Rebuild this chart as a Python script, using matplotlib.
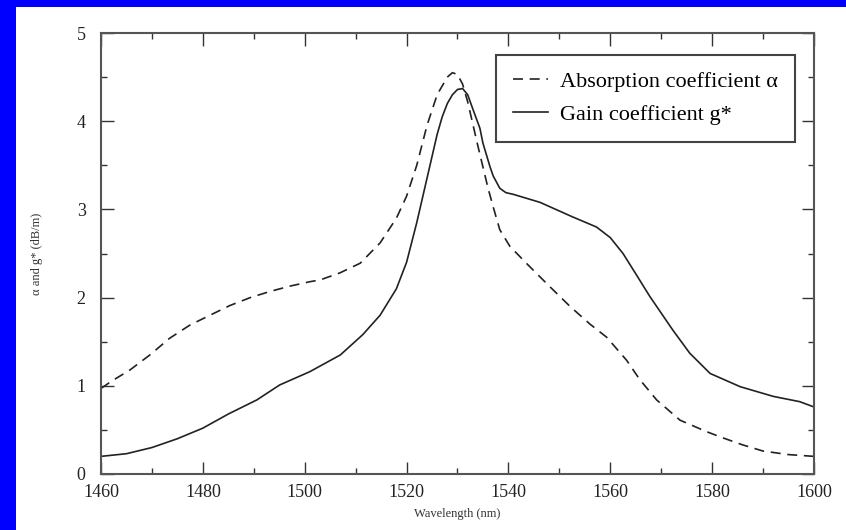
import numpy as np
import matplotlib.pyplot as plt
from matplotlib.patches import Rectangle
from matplotlib.ticker import MultipleLocator

# ---- data ----
abs_wl = [1460, 1462, 1465.7, 1469.6, 1473.5, 1477.5, 1481.4, 1485.3, 1489.3, 1493.2,
          1497.1, 1501, 1503, 1506.9, 1510.9, 1514.8, 1518, 1520, 1522, 1524,
          1526, 1528, 1529, 1530, 1531, 1532, 1533, 1534, 1535, 1536,
          1537, 1538.3, 1540.3, 1544.2, 1548.2, 1552.1, 1556, 1559.3, 1563.2, 1565.8,
          1569.1, 1573.7, 1578.9, 1582.1, 1586, 1590, 1595, 1600]
abs_val = [0.97, 1.05, 1.18, 1.35, 1.54, 1.69, 1.80, 1.91, 2.00, 2.07,
           2.13, 2.18, 2.20, 2.28, 2.39, 2.62, 2.90, 3.15, 3.50, 3.95,
           4.30, 4.50, 4.55, 4.53, 4.42, 4.22, 3.97, 3.72, 3.48, 3.24,
           3.03, 2.77, 2.58, 2.35, 2.12, 1.90, 1.70, 1.55, 1.29, 1.07,
           0.84, 0.61, 0.48, 0.41, 0.33, 0.26, 0.22, 0.20]

gain_wl = [1460, 1465, 1470, 1475, 1480, 1485, 1490.6, 1495.1, 1501, 1507,
           1511.4, 1514.8, 1518, 1520, 1522, 1524, 1526, 1527, 1528, 1529,
           1530, 1531, 1532, 1533, 1534.4, 1535, 1536.4, 1537, 1538.3, 1539.5,
           1541, 1546.2, 1552.4, 1557.3, 1560, 1562.5, 1565, 1567.8, 1572.3, 1575.6,
           1579.6, 1585.5, 1592, 1597.2, 1600]
gain_val = [0.20, 0.23, 0.30, 0.40, 0.52, 0.68, 0.84, 1.01, 1.16, 1.35,
            1.58, 1.80, 2.10, 2.40, 2.85, 3.35, 3.85, 4.05, 4.20, 4.30,
            4.36, 4.37, 4.30, 4.14, 3.92, 3.75, 3.48, 3.38, 3.24, 3.19,
            3.17, 3.08, 2.92, 2.80, 2.68, 2.50, 2.27, 2.01, 1.63, 1.37,
            1.14, 0.99, 0.88, 0.82, 0.76]

legend_labels = ["Absorption coefficient α", "Gain coefficient g*"]

plt.rcParams["font.family"] = ["Liberation Serif", "DejaVu Serif"]

fig = plt.figure(figsize=(8.46, 5.30), dpi=100)
fig.patch.set_facecolor("white")

# blue frame strips (top and left) of the slide
fig.patches.append(Rectangle((0, 1 - 7 / 530), 1, 7 / 530, transform=fig.transFigure,
                             facecolor="#0000FF", edgecolor="none", zorder=0))
fig.patches.append(Rectangle((0, 0), 16 / 846, 1, transform=fig.transFigure,
                             facecolor="#0000FF", edgecolor="none", zorder=0))

ax = fig.add_axes([101 / 846, 56 / 530, 713 / 846, 441 / 530])

line_col = "#222222"
ax.plot(abs_wl, abs_val, color=line_col, lw=1.2, linestyle=(0, (6, 4)), label=legend_labels[0])
ax.plot(gain_wl, gain_val, color=line_col, lw=1.2, label=legend_labels[1])

ax.set_xlim(1460, 1600)
ax.set_ylim(0, 5)
ax.xaxis.set_major_locator(MultipleLocator(20))
ax.xaxis.set_minor_locator(MultipleLocator(10))
ax.yaxis.set_major_locator(MultipleLocator(1))
ax.yaxis.set_minor_locator(MultipleLocator(0.5))

ax.tick_params(which="both", direction="in", top=True, right=True, colors="#333333")
ax.tick_params(which="major", length=9, width=1)
ax.tick_params(which="minor", length=4, width=1)
ax.tick_params(axis="x", which="major", pad=7, labelsize=13, labelcolor="#222222")
ax.tick_params(axis="y", which="major", pad=11, labelsize=13, labelcolor="#222222")

for sp in ax.spines.values():
    sp.set_color("#555555")
    sp.set_linewidth(1.5)

ax.set_xlabel("Wavelength (nm)", fontsize=9, color="#333333", labelpad=5)
ax.set_ylabel("α and g* (dB/m)", fontsize=9, color="#333333", labelpad=24)

leg = ax.legend(loc="upper right", bbox_to_anchor=((795 - 101) / 713, (474 - 55) / 441),
                borderaxespad=0, fontsize=16, handlelength=1.6, handletextpad=0.55,
                fancybox=False, framealpha=1, borderpad=0.75, labelspacing=0.55)
leg.get_frame().set_edgecolor("#444444")
leg.get_frame().set_linewidth(1.5)

fig.savefig("out.png", dpi=100)
